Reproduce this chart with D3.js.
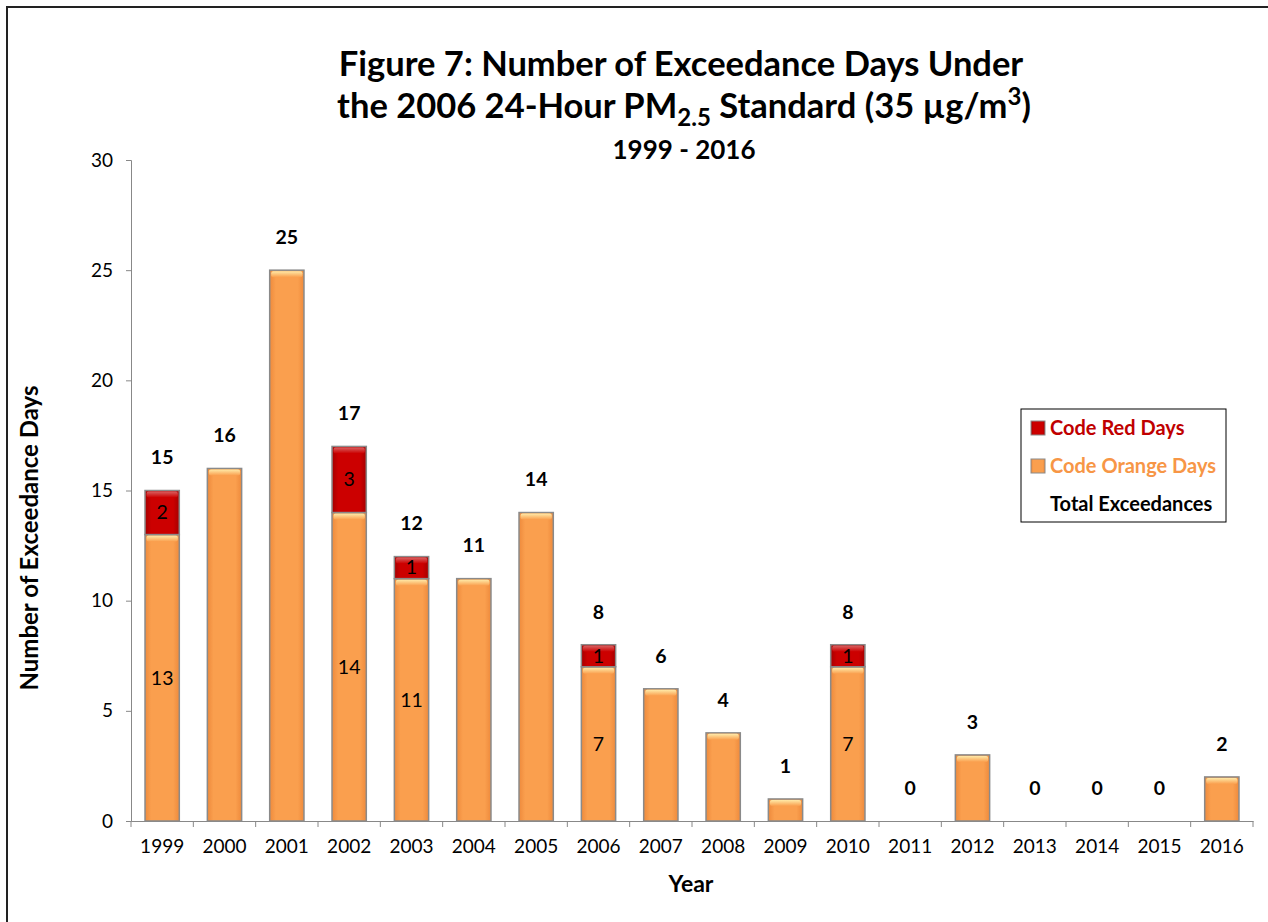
<!DOCTYPE html>
<html>
<head>
<meta charset="utf-8">
<script src="https://cdn.jsdelivr.net/npm/d3@7"></script>
<style>
  body { margin: 0; background: #fff; }
  svg text { font-family: Lato, "Open Sans", sans-serif; }
</style>
</head>
<body>
<div id="chart"></div>
<script>
// exceedance days per year
var years = ["1999", "2000", "2001", "2002", "2003", "2004", "2005", "2006", "2007",
             "2008", "2009", "2010", "2011", "2012", "2013", "2014", "2015", "2016"];
var orangeDays = [13, 16, 25, 14, 11, 11, 14, 7, 6, 4, 1, 7, 0, 3, 0, 0, 0, 2];
var redDays    = [2, 0, 0, 3, 1, 0, 0, 1, 0, 0, 0, 1, 0, 0, 0, 0, 0, 0];
var yTicks = [0, 5, 10, 15, 20, 25, 30];

var width = 1268, height = 922;
var plotLeft = 131, plotRight = 1253, plotTop = 160, plotBottom = 821;

var data = years.map(function(y, i) {
    return { year: y, orange: orangeDays[i], red: redDays[i], total: orangeDays[i] + redDays[i] };
});

var svg = d3.select("#chart").append("svg")
    .attr("width", width).attr("height", height);

var defs = svg.append("defs");

function barGradient(id, edge, mid) {
    var g = defs.append("linearGradient").attr("id", id)
        .attr("x1", "0%").attr("x2", "100%").attr("y1", "0%").attr("y2", "0%");
    g.append("stop").attr("offset", "0%").attr("stop-color", edge);
    g.append("stop").attr("offset", "18%").attr("stop-color", mid);
    g.append("stop").attr("offset", "82%").attr("stop-color", mid);
    g.append("stop").attr("offset", "100%").attr("stop-color", edge);
}
barGradient("gOrange", "#ee8a3c", "#fa9f4e");
barGradient("gRed", "#a50000", "#cc0000");

function capGradient(id, c1, c2) {
    var g = defs.append("linearGradient").attr("id", id)
        .attr("x1", "0%").attr("x2", "0%").attr("y1", "0%").attr("y2", "100%");
    g.append("stop").attr("offset", "0%").attr("stop-color", c1);
    g.append("stop").attr("offset", "100%").attr("stop-color", c2);
}
capGradient("capOrange", "#ffeaa8", "#fa9f4e");
capGradient("capRed", "#d86060", "#cc0000");

// outer frame (left and top edges only visible)
svg.append("path")
    .attr("d", "M7," + height + "V7H" + width)
    .attr("fill", "none").attr("stroke", "#222").attr("stroke-width", 2);

var x = d3.scaleBand().domain(years).range([plotLeft, plotRight])
    .paddingInner(0.45).paddingOuter(0.225);
var y = d3.scaleLinear().domain([0, 30]).range([plotBottom, plotTop]);

// axes
var yAxis = svg.append("g").attr("transform", "translate(" + plotLeft + ",0)")
    .call(d3.axisLeft(y).tickValues(yTicks).tickSize(5).tickPadding(13));
yAxis.selectAll("text").attr("font-size", 19).attr("fill", "#000")
    .style("font-family", "Lato, sans-serif");

var xAxis = svg.append("g").attr("transform", "translate(0," + plotBottom + ")")
    .call(d3.axisBottom(x).tickSize(0).tickPadding(19));
xAxis.selectAll("text").attr("font-size", 19).attr("fill", "#000")
    .style("font-family", "Lato, sans-serif");
// ticks at band boundaries
var bounds = years.map(function(d) { return x(d) - x.step() * x.paddingInner() / 2; });
bounds.push(plotRight);
xAxis.selectAll(".bound").data(bounds).enter().append("line")
    .attr("x1", function(d) { return d; }).attr("x2", function(d) { return d; })
    .attr("y1", 0).attr("y2", 6).attr("stroke", "#888");
svg.selectAll(".domain").attr("stroke", "#888");
yAxis.selectAll(".tick line").attr("stroke", "#888");

// bars
var stack = d3.stack().keys(["orange", "red"])(data);
var bw = x.bandwidth();

stack.forEach(function(layer) {
    var key = layer.key;
    var g = svg.append("g");
    var segs = g.selectAll("g").data(layer.filter(function(d) { return d[1] > d[0]; }))
        .enter().append("g");
    segs.append("rect")
        .attr("x", function(d) { return x(d.data.year); })
        .attr("y", function(d) { return y(d[1]); })
        .attr("width", bw)
        .attr("height", function(d) { return y(d[0]) - y(d[1]); })
        .attr("fill", key === "orange" ? "url(#gOrange)" : "url(#gRed)")
        .attr("stroke", "#8a8a8a").attr("stroke-width", 1.5);
    segs.append("rect")
        .attr("x", function(d) { return x(d.data.year) + 1.5; })
        .attr("y", function(d) { return y(d[1]) + 1; })
        .attr("width", bw - 3).attr("height", 6)
        .attr("rx", 2)
        .attr("fill", key === "orange" ? "url(#capOrange)" : "url(#capRed)");
});

// value labels inside segments (only on bars that have red days)
var split = data.filter(function(d) { return d.red > 0; });
svg.selectAll(".lblO").data(split).enter().append("text")
    .attr("x", function(d) { return x(d.year) + bw / 2; })
    .attr("y", function(d) { return y(d.orange / 2); })
    .attr("dy", "0.35em").attr("text-anchor", "middle")
    .attr("font-size", 19.5).text(function(d) { return d.orange; });
svg.selectAll(".lblR").data(split).enter().append("text")
    .attr("x", function(d) { return x(d.year) + bw / 2; })
    .attr("y", function(d) { return y(d.orange + d.red / 2); })
    .attr("dy", "0.35em").attr("text-anchor", "middle")
    .attr("font-size", 19.5).text(function(d) { return d.red; });

// totals above bars
svg.selectAll(".lblT").data(data).enter().append("text")
    .attr("x", function(d) { return x(d.year) + bw / 2; })
    .attr("y", function(d) { return y(d.total) - 33; })
    .attr("dy", "0.35em").attr("text-anchor", "middle")
    .attr("font-size", 19.5).attr("font-weight", "bold")
    .text(function(d) { return d.total; });

// titles
var t = svg.append("g").attr("text-anchor", "middle").attr("font-weight", "bold");
t.append("text").attr("x", 681).attr("y", 76).attr("font-size", 34.5)
    .text("Figure 7: Number of Exceedance Days Under");
var t2 = t.append("text").attr("x", 684).attr("y", 118).attr("font-size", 34.5);
t2.append("tspan").text("the 2006 24-Hour PM");
t2.append("tspan").attr("font-size", 24).attr("dy", 8).text("2.5");
t2.append("tspan").attr("dy", -8).text(" Standard (35 µg/m");
t2.append("tspan").attr("font-size", 24).attr("dy", -13).text("3");
t2.append("tspan").attr("dy", 13).text(")");
t.append("text").attr("x", 684).attr("y", 159).attr("font-size", 26).text("1999 - 2016");

svg.append("text").attr("x", 691).attr("y", 892).attr("text-anchor", "middle")
    .attr("font-size", 23).attr("font-weight", "bold").text("Year");
svg.append("text")
    .attr("transform", "translate(38,538) rotate(-90)")
    .attr("text-anchor", "middle")
    .attr("font-size", 24).attr("font-weight", "bold").text("Number of Exceedance Days");

// legend
var lg = svg.append("g").attr("transform", "translate(1021,409)");
lg.append("rect").attr("width", 205).attr("height", 113)
    .attr("fill", "#fff").attr("stroke", "#000").attr("stroke-width", 1);
var items = [
    { label: "Code Red Days", color: "#c00000", fill: "url(#gRed)" },
    { label: "Code Orange Days", color: "#f79646", fill: "url(#gOrange)" },
    { label: "Total Exceedances", color: "#000", fill: null }
];
items.forEach(function(it, i) {
    var yy = 19 + i * 38;
    if (it.fill) {
        lg.append("rect").attr("x", 10).attr("y", yy - 7).attr("width", 14).attr("height", 14)
            .attr("fill", it.fill).attr("stroke", "#8a8a8a");
    }
    lg.append("text").attr("x", 29).attr("y", yy).attr("dy", "0.35em")
        .attr("font-size", 20).attr("font-weight", "bold").attr("fill", it.color)
        .text(it.label);
});
</script>
</body>
</html>
